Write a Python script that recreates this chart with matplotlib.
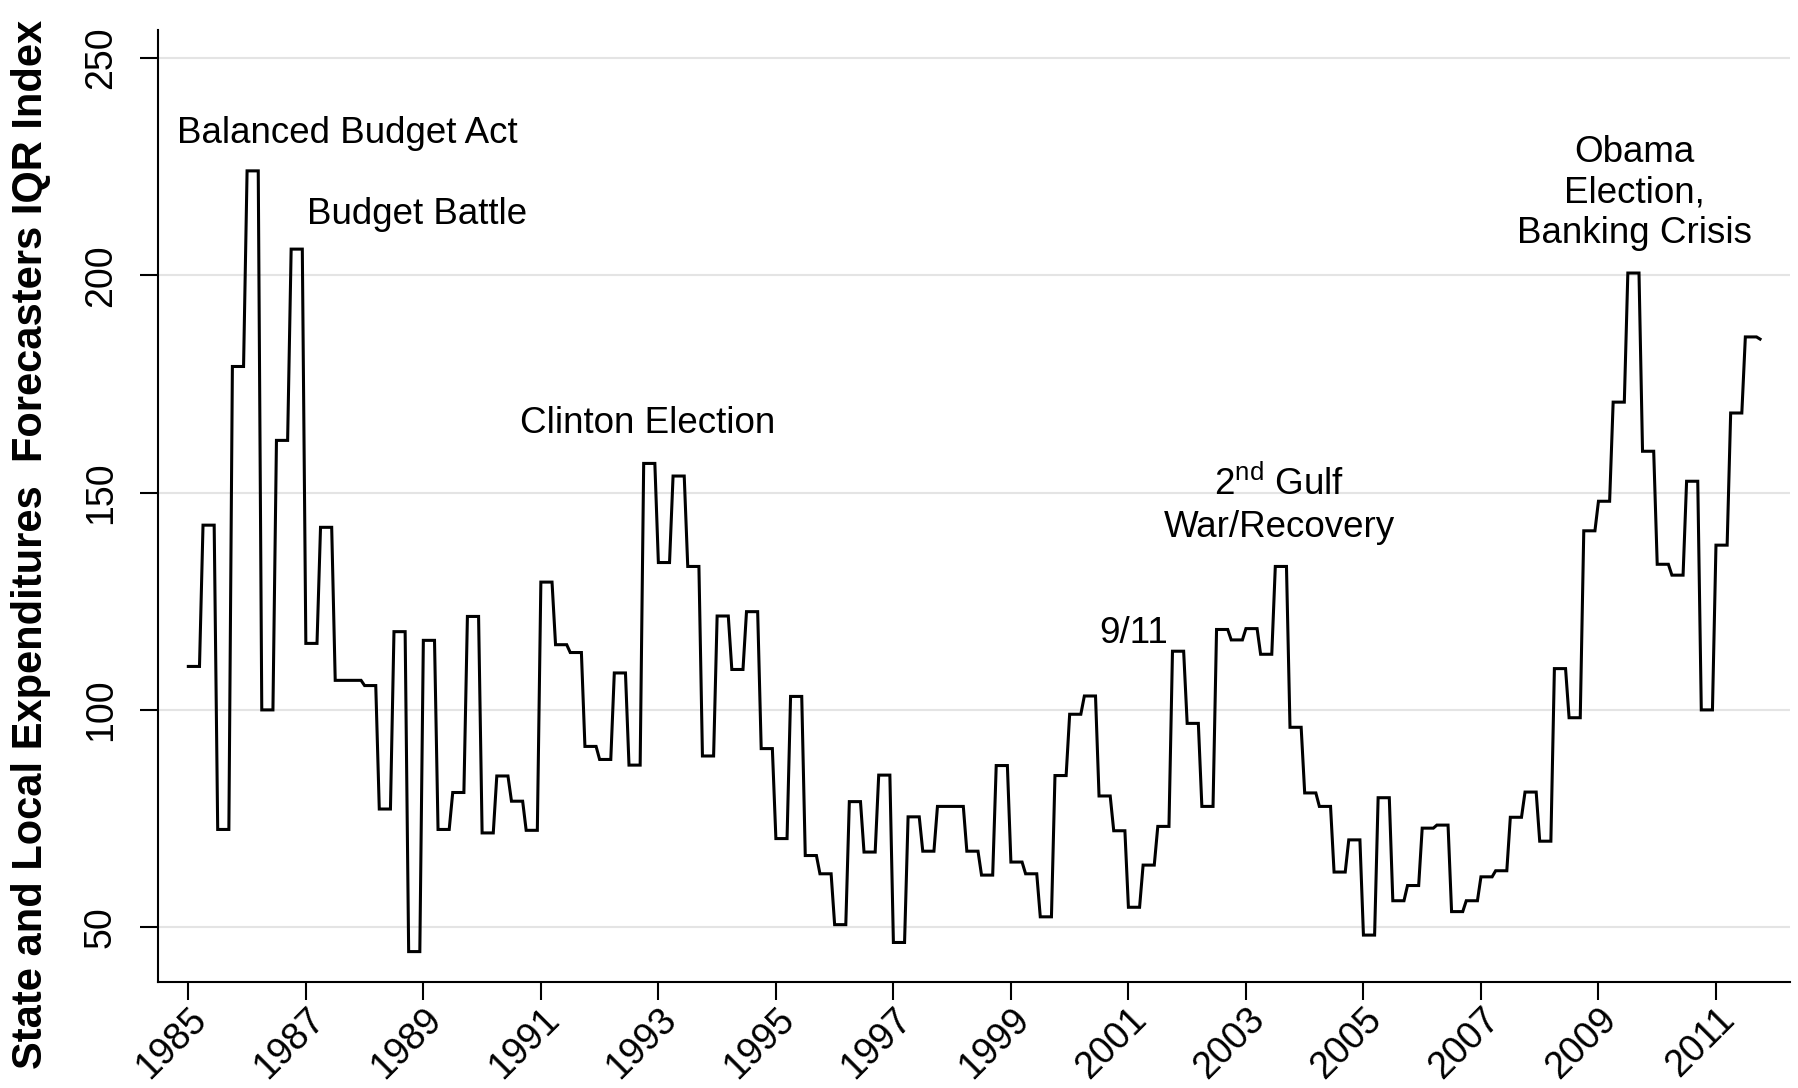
import matplotlib.pyplot as plt
import numpy as np

plt.rcParams['font.family'] = ['Liberation Sans', 'DejaVu Sans']
plt.rcParams['mathtext.fontset'] = 'custom'
plt.rcParams['mathtext.rm'] = 'Liberation Sans'

# quarterly values, 1985Q1 .. 2011Q4
start_year = 1985
iqr_index = [
    110, 142.5, 72.5, 179,       # 1985
    224, 100, 162, 206,          # 1986
    115.3, 142, 106.8, 106.8,    # 1987
    105.6, 77.2, 118, 44.4,      # 1988
    116, 72.5, 81, 121.5,        # 1989
    71.7, 84.8, 79, 72.3,        # 1990
    129.4, 115, 113.2, 91.6,     # 1991
    88.6, 108.5, 87.3, 156.7,    # 1992
    133.9, 153.8, 133, 89.4,     # 1993
    121.6, 109.3, 122.6, 91.1,   # 1994
    70.4, 103.1, 66.5, 62.3,     # 1995
    50.6, 78.9, 67.3, 85,        # 1996
    46.5, 75.4, 67.5, 77.8,      # 1997
    77.8, 67.5, 62, 87.2,        # 1998
    65, 62.3, 52.4, 84.9,        # 1999
    99, 103.2, 80.2, 72.2,       # 2000
    54.6, 64.3, 73.2, 113.5,     # 2001
    96.9, 77.8, 118.5, 116.1,    # 2002
    118.7, 112.8, 133, 96,       # 2003
    80.9, 77.8, 62.7, 70.1,      # 2004
    48.2, 79.8, 56.1, 59.6,      # 2005
    72.8, 73.5, 53.6, 56.1,      # 2006
    61.6, 63, 75.3, 81.1,        # 2007
    69.8, 109.5, 98.2, 141.2,    # 2008
    148, 170.8, 200.5, 159.5,    # 2009
    133.5, 131, 152.6, 100,      # 2010
    137.9, 168.3, 185.8, 185.3,  # 2011
]

events = ['Balanced Budget Act', 'Budget Battle', 'Clinton Election', '9/11',
          r'2$^{\mathrm{nd}}$ Gulf', 'War/Recovery',
          'Obama\nElection,\nBanking Crisis']
event_x = [1987.70, 1988.90, 1992.82, 2001.09, 2003.57, 2003.57, 2009.61]
event_y = [232.5, 213.9, 165.8, 117.6, 152.0, 141.9, 218.9]

years = start_year + np.arange(len(iqr_index)) / 4
# each quarter held flat, quick move to the next one
xs = np.column_stack([years, years + 0.19]).ravel()[:-1]
ys = np.repeat(iqr_index, 2)[:-1]

fig = plt.figure(figsize=(17.99, 10.88), dpi=100)
ax = fig.add_axes([0.0877, 0.0974, 0.9073, 0.875])

ax.plot(xs, ys, color='black', lw=2.2, solid_joinstyle='miter')

for txt, x, y in zip(events, event_x, event_y):
    ax.text(x, y, txt, fontsize=26.5, ha='center', va='center',
            multialignment='center', linespacing=1.2)

ax.set_xlim(1984.48, 2012.26)
ax.set_ylim(37.4, 256.4)
ax.set_xticks(np.arange(1985, 2012, 2))
ax.set_xticklabels([str(y) for y in range(1985, 2012, 2)], rotation=45,
                   ha='right', rotation_mode='anchor')
ax.set_yticks(range(50, 251, 50))
ax.tick_params(axis='both', direction='out', length=13, width=1.5,
               labelsize=27, color='black')
ax.tick_params(axis='x', pad=1)
ax.tick_params(axis='y', pad=15, labelrotation=90)
for lab in ax.get_yticklabels():
    lab.set_va('center')

ax.grid(axis='y', color='#e4e4e4', lw=1.5)
ax.set_axisbelow(True)
for side in ['top', 'right']:
    ax.spines[side].set_visible(False)
for side in ['left', 'bottom']:
    ax.spines[side].set_linewidth(1.5)

fig.text(0.017, 0.5, 'State and Local Expenditures  Forecasters IQR Index',
         rotation=90, fontsize=30, fontweight='bold', ha='center', va='center')

plt.savefig('out.png', dpi=100)
